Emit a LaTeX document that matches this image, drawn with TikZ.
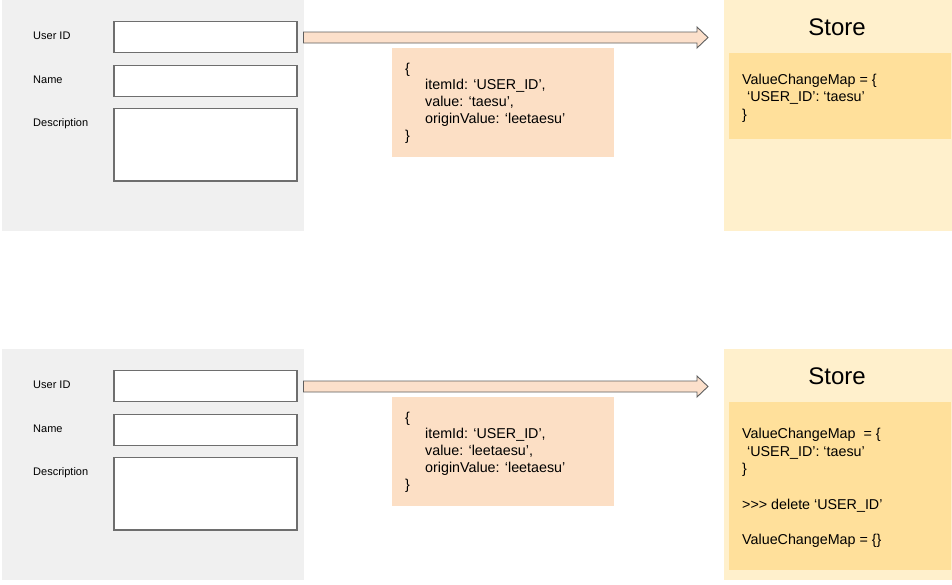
\documentclass[tikz,border=0pt]{standalone}
\usepackage{fontspec}
\setmainfont{Liberation Sans}
\definecolor{panelgray}{HTML}{F0F0F0}
\definecolor{boxline}{HTML}{6E6E6E}
\definecolor{peach}{HTML}{FCE0CB}
\definecolor{codefill}{HTML}{FCDFC5}
\definecolor{storelight}{HTML}{FFF0CC}
\definecolor{storedark}{HTML}{FFE09B}
\definecolor{arrowline}{HTML}{5E5E5E}
\begin{document}
\begin{tikzpicture}[x=1pt,y=-1pt,
  field/.style={draw=boxline,line width=1.3pt,fill=white},
  flabel/.style={anchor=base west,inner sep=0pt,font=\fontsize{11}{13}\selectfont},
  codetext/.style={anchor=base west,inner sep=0pt,align=left,font=\fontsize{14.3}{16.8}\selectfont},
  storetext/.style={anchor=base west,inner sep=0pt,align=left,font=\fontsize{14.3}{17.7}\selectfont},
  storetitle/.style={anchor=base,inner sep=0pt,font=\fontsize{24}{28}\selectfont},
  blockarrow/.style={draw=arrowline,line width=0.9pt,fill=peach,line join=miter}]
\useasboundingbox (0,0) rectangle (952,584);
\fill[white] (0,0) rectangle (952,584);
\foreach \dy/\v/\p in {0/taesu/top, 349/leetaesu/bot}{
  \begin{scope}[yshift=-\dy pt]
    % form panel
    \fill[panelgray] (2,0) rectangle (304,231);
    \node[flabel] (uid-\p) at (33,39) {User ID};
    \node[flabel] (name-\p) at (33,83) {Name};
    \node[flabel] (desc-\p) at (33,126) {Description};
    \draw[field] (114,21.5) rectangle (297,52.5);
    \draw[field] (114,65.5) rectangle (297,96.5);
    \draw[field] (114,108.5) rectangle (297,181);
    % block arrow
    \draw[blockarrow] (303.5,32) -- (697,32) -- (697,27) -- (708,37.5) -- (697,48) -- (697,43) -- (303.5,43) -- cycle;
    % code box
    \fill[codefill] (392,48) rectangle (614,157);
    % anchor is the baseline of the last line
    \node[codetext] (code-\p) at (405,140.2) {\{\\\hspace*{20pt}itemId: ‘USER\_ID’,\\\hspace*{20pt}value: ‘\v’,\\\hspace*{20pt}originValue: ‘leetaesu’\\\}};
  \end{scope}
}
% top store
\fill[storelight] (724,0) rectangle (952,231);
\fill[storedark] (729,53) rectangle (951,139);
\node[storetitle] (store-top) at (837,35) {Store};
\node[storetext] (map-top) at (742,119.4) {ValueChangeMap = \{\\\hspace*{5pt}‘USER\_ID’: ‘taesu’\\\}};
% bottom store
\fill[storelight] (724,349) rectangle (952,580);
\fill[storedark] (729,402) rectangle (951,570);
\node[storetitle] (store-bot) at (837,384) {Store};
\node[storetext] (map-bot) at (742,544.5) {ValueChangeMap\hspace*{4pt} = \{\\\hspace*{5pt}‘USER\_ID’: ‘taesu’\\\}\\[17.7pt]{>}{>}{>} delete ‘USER\_ID’\\[17.7pt]ValueChangeMap = \{\}};
\end{tikzpicture}
\end{document}
